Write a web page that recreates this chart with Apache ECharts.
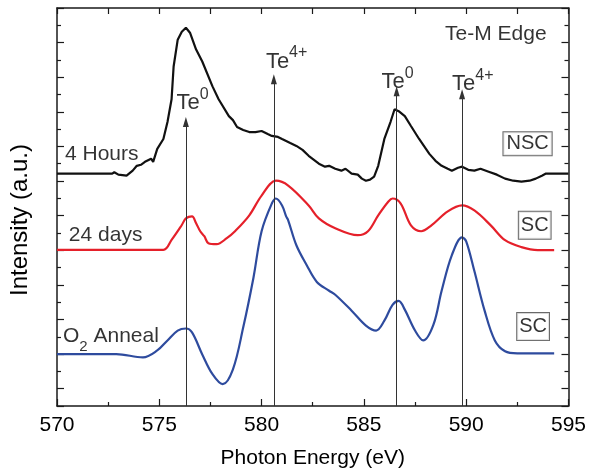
<!DOCTYPE html>
<html>
<head>
<meta charset="utf-8">
<script src="https://cdn.jsdelivr.net/npm/echarts@6/dist/echarts.min.js"></script>
<style>
  html, body { margin: 0; padding: 0; background: #fff; }
  #chart { width: 589px; height: 474px; }
</style>
</head>
<body>
<div id="chart"></div>
<script>
// photon energy (eV) and intensity (a.u., offset traces)
const hoursX = [570, 572.7, 572.8, 573.0, 573.4, 573.7, 573.9, 574.1, 574.3, 574.4, 574.6, 574.7, 574.9, 575.2, 575.4, 575.6, 575.7, 575.9, 576.1, 576.3, 576.5, 576.8, 577.1, 577.6, 577.9, 578.4, 578.6, 578.8, 579.1, 579.4, 579.7, 580.0, 580.3, 580.5, 580.8, 581.0, 581.4, 581.7, 582.0, 582.3, 582.8, 583.1, 583.3, 583.6, 583.9, 584.1, 584.4, 584.7, 584.9, 585.1, 585.3, 585.5, 585.7, 586.0, 586.3, 586.5, 586.7, 587.0, 587.3, 587.7, 588.2, 588.5, 588.8, 589.1, 589.3, 589.6, 589.8, 590.1, 590.4, 590.7, 591.1, 591.5, 591.9, 592.3, 592.7, 593.1, 593.4, 593.7, 593.9, 594.4, 595];
const hoursY = [13.43, 13.43, 13.51, 13.37, 13.31, 13.60, 13.88, 13.94, 14.11, 14.17, 14.29, 14.11, 14.86, 15.43, 16.41, 17.73, 19.62, 21.17, 21.63, 21.86, 21.57, 20.60, 19.91, 18.47, 17.73, 16.75, 16.52, 16.12, 15.95, 15.83, 15.83, 15.89, 15.72, 15.61, 15.55, 15.43, 15.20, 15.03, 14.80, 14.46, 14.00, 13.83, 13.88, 13.71, 13.60, 13.71, 13.43, 13.37, 13.14, 13.02, 13.08, 13.25, 13.88, 15.43, 16.41, 17.15, 17.04, 16.75, 16.18, 15.43, 14.57, 14.17, 13.88, 13.71, 13.60, 13.77, 13.83, 13.65, 13.60, 13.71, 13.54, 13.37, 13.14, 13.02, 12.97, 13.02, 13.14, 13.31, 13.43, 13.43, 13.43];

const daysX = [570, 575.2, 575.6, 576.1, 576.3, 576.6, 576.8, 577.0, 577.2, 577.4, 577.8, 578.3, 578.7, 579.4, 580.0, 580.7, 581.3, 582.3, 582.8, 583.6, 584.7, 585.2, 585.7, 586.2, 586.4, 586.8, 587.3, 587.8, 588.3, 589.1, 589.8, 590.4, 591.2, 591.9, 592.7, 593.5, 594.3];
const daysY = [9.02, 9.02, 9.60, 10.46, 10.84, 10.96, 10.56, 10.10, 9.81, 9.41, 9.35, 9.70, 10.10, 11.02, 12.16, 13.02, 12.74, 11.59, 10.84, 10.27, 9.87, 10.10, 11.02, 11.82, 11.99, 11.70, 10.44, 10.10, 10.44, 11.25, 11.59, 11.30, 10.44, 9.58, 9.18, 9.01, 9.01];

const annealX = [570, 572.9, 574.2, 574.9, 575.4, 575.9, 576.3, 576.6, 577.1, 577.6, 578.1, 578.6, 579.1, 579.6, 580.0, 580.5, 580.7, 581.0, 581.2, 581.3, 581.7, 582.2, 582.7, 583.3, 583.6, 584.4, 585.1, 585.6, 586.0, 586.4, 586.7, 587.0, 587.5, 587.9, 588.4, 588.8, 589.3, 589.8, 590.0, 590.4, 590.9, 591.4, 591.9, 592.5, 594.3];
const annealY = [3.00, 3.00, 2.81, 3.21, 3.79, 4.36, 4.48, 4.25, 2.98, 1.84, 1.26, 2.12, 4.53, 7.40, 10.10, 11.70, 11.99, 11.59, 10.96, 10.73, 9.29, 8.15, 7.17, 6.66, 6.43, 5.51, 4.65, 4.36, 4.93, 5.85, 6.08, 5.57, 4.36, 3.79, 4.70, 6.66, 8.72, 9.75, 9.52, 7.80, 5.51, 3.79, 3.16, 3.04, 3.04];

// peak markers: energy, arrow tip, label position, label
const peakX = [576.3, 580.6, 586.6, 589.8];
const peakTip = [16.41, 18.88, 18.19, 18.01];
const peakLabelX = [575.84, 580.21, 585.86, 589.31];
const peakLabelY = [17.67, 20.05, 18.88, 18.76];
const peakState = ['0', '4+', '0', '4+'];

// text notes
const noteX = [593.93, 570.39, 570.58, 570.29];
const noteY = [21.46, 14.57, 9.87, 3.81];
const noteText = ['Te-M Edge', '4 Hours', '24 days', '{n|O}{sub|2}{n| Anneal}'];
const noteAlign = ['right', 'left', 'left', 'left'];

// boxed sample tags
const tagX = [593.0, 593.35, 593.27];
const tagY = [15.15, 10.44, 4.59];
const tagText = ['NSC', 'SC', 'SC'];

const FONT = 'Liberation Sans, Arial, Helvetica, sans-serif';
const INK = '#1a1a1a';
const TEXT = '#000';

function pairs(xs, ys) {
  return xs.map((x, i) => [x, ys[i]]);
}

const chart = echarts.init(document.getElementById('chart'), null, { renderer: 'canvas' });

// tick-only axes so the long ticks start at the top edge, like the original
const tickAxis = (pos) => ({
  type: 'value',
  position: pos,
  inverse: true,
  min: 0,
  max: 23,
  interval: 2,
  axisLine: { show: pos === 'right', lineStyle: { color: INK, width: 1.5 } },
  axisTick: { show: true, inside: true, length: 7, lineStyle: { color: INK, width: 1.2 } },
  minorTick: { show: true, splitNumber: 2, length: 4, lineStyle: { color: INK, width: 1.2 } },
  axisLabel: { show: false },
  splitLine: { show: false }
});

chart.setOption({
  animation: false,
  backgroundColor: '#fff',
  textStyle: { fontFamily: FONT },
  grid: { left: 57, right: 18, top: 8, bottom: 66 },
  graphic: [
    {
      type: 'text',
      x: 20,
      y: 220,
      rotation: Math.PI / 2,
      style: {
        text: 'Intensity (a.u.)',
        font: '24px ' + FONT,
        fill: TEXT,
        align: 'center',
        verticalAlign: 'middle'
      }
    }
  ],
  xAxis: [
    {
      type: 'value',
      position: 'bottom',
      min: 570,
      max: 595,
      interval: 5,
      name: 'Photon Energy (eV)',
      nameLocation: 'middle',
      nameGap: 42,
      nameTextStyle: { fontSize: 21, color: TEXT, fontFamily: FONT },
      axisLine: { lineStyle: { color: INK, width: 1.5 } },
      axisTick: { inside: true, length: 7, lineStyle: { color: INK, width: 1.2 } },
      minorTick: { show: true, splitNumber: 2, length: 4, lineStyle: { color: INK, width: 1.2 } },
      axisLabel: { fontSize: 21, color: TEXT, margin: 9, fontFamily: FONT },
      splitLine: { show: false }
    },
    {
      type: 'value',
      position: 'top',
      min: 570,
      max: 595,
      interval: 5,
      axisLine: { lineStyle: { color: INK, width: 1.5 } },
      axisTick: { inside: true, length: 6, lineStyle: { color: INK, width: 1.2 } },
      minorTick: { show: true, splitNumber: 2, length: 6, lineStyle: { color: INK, width: 1.2 } },
      axisLabel: { show: false },
      splitLine: { show: false }
    }
  ],
  yAxis: [
    {
      type: 'value',
      position: 'left',
      min: 0,
      max: 23,
      axisLine: { show: true, lineStyle: { color: INK, width: 1.5 } },
      axisTick: { show: false },
      axisLabel: { show: false },
      splitLine: { show: false }
    },
    tickAxis('left'),
    tickAxis('right')
  ],
  series: [
    {
      name: '4 Hours',
      type: 'line',
      data: pairs(hoursX, hoursY),
      showSymbol: false,
      lineStyle: { color: '#111', width: 2.2 },
      z: 3
    },
    {
      name: '24 days',
      type: 'line',
      data: pairs(daysX, daysY),
      smooth: 0.35,
      showSymbol: false,
      lineStyle: { color: '#e5202a', width: 2.2 },
      z: 3
    },
    {
      name: 'O2 Anneal',
      type: 'line',
      data: pairs(annealX, annealY),
      smooth: 0.35,
      showSymbol: false,
      lineStyle: { color: '#2e4b9e', width: 2.2 },
      z: 3
    },
    {
      // peak arrows
      type: 'line',
      data: [],
      silent: true,
      markLine: {
        silent: true,
        symbol: ['none', 'triangle'],
        symbolSize: [6, 10],
        label: { show: false },
        lineStyle: { color: '#333', width: 1, type: 'solid' },
        data: peakX.map((x, i) => [{ coord: [x, 0] }, { coord: [x, peakTip[i]] }])
      },
      z: 2
    },
    {
      // peak labels, Te with superscript charge
      type: 'scatter',
      symbolSize: 0,
      silent: true,
      data: peakLabelX.map((x, i) => ({
        value: [x, peakLabelY[i]],
        label: { formatter: '{t|Te}{s|' + peakState[i] + '}' }
      })),
      label: {
        show: true,
        position: [0, 0],
        align: 'left',
        verticalAlign: 'middle',
        color: TEXT,
        rich: {
          t: { fontSize: 22, fontFamily: FONT, color: TEXT, lineHeight: 28, verticalAlign: 'bottom' },
          s: { fontSize: 16, fontFamily: FONT, color: TEXT, lineHeight: 28, verticalAlign: 'top' }
        }
      },
      z: 4
    },
    {
      // notes
      type: 'scatter',
      symbolSize: 0,
      silent: true,
      data: noteX.map((x, i) => ({
        value: [x, noteY[i]],
        label: { formatter: noteText[i], align: noteAlign[i] }
      })),
      label: {
        show: true,
        position: [0, 0],
        verticalAlign: 'middle',
        fontSize: 21,
        color: TEXT,
        rich: {
          n: { fontSize: 21, fontFamily: FONT, color: TEXT, lineHeight: 28, verticalAlign: 'top' },
          sub: { fontSize: 15, fontFamily: FONT, color: TEXT, lineHeight: 28, verticalAlign: 'bottom' }
        }
      },
      z: 4
    },
    {
      // boxed tags
      type: 'scatter',
      symbolSize: 0,
      silent: true,
      data: tagX.map((x, i) => ({
        value: [x, tagY[i]],
        name: tagText[i],
        label: { padding: i === 0 ? [2, 3, 1, 3] : [4, 2, 3, 2] }
      })),
      label: {
        show: true,
        position: [0, 0],
        align: 'center',
        verticalAlign: 'middle',
        formatter: '{b}',
        fontSize: 20,
        color: TEXT,
        backgroundColor: '#fff',
        borderColor: '#444',
        borderWidth: 1
      },
      z: 4
    }
  ]
});
</script>
</body>
</html>
